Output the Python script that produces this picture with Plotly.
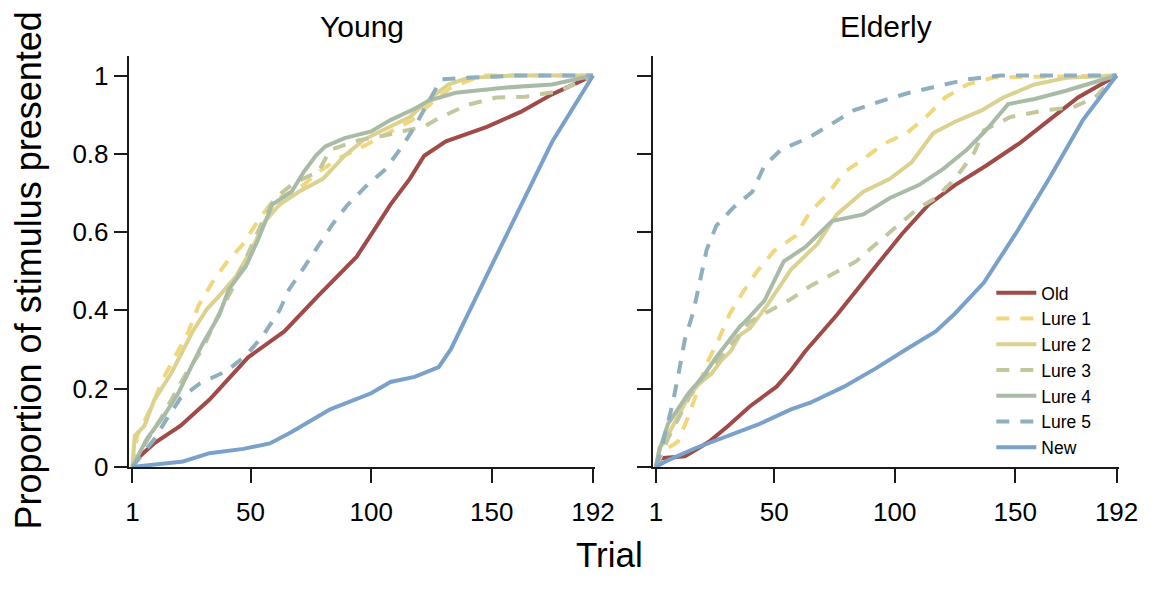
import plotly.graph_objects as go

W, H = 1176, 593

# ---------------- data: cumulative proportion of each stimulus type by trial ----------------
series_names = ["Old", "Lure 1", "Lure 2", "Lure 3", "Lure 4", "Lure 5", "New"]
tick_trials = [1, 50, 100, 150, 192]
tick_props = [0, 0.2, 0.4, 0.6, 0.8, 1]

# Young group
young_old_trial = [1, 10, 21, 33, 49, 64, 78, 89, 94, 101, 108, 116, 122, 131, 139, 148, 162, 175, 192]
young_old_prop = [0.01, 0.06, 0.105, 0.172, 0.28, 0.346, 0.437, 0.504, 0.537, 0.603, 0.67, 0.736, 0.795,
                  0.832, 0.849, 0.869, 0.907, 0.952, 1.0]
young_lure1_trial = [1, 3, 9, 13.5, 18.5, 24, 28.5, 34, 40, 47, 53, 59, 66, 72, 78, 87, 97, 106, 117, 125,
                     133, 146, 192]
young_lure1_prop = [0.0, 0.08, 0.155, 0.222, 0.28, 0.342, 0.413, 0.47, 0.522, 0.57, 0.628, 0.678, 0.70, 0.72,
                    0.753, 0.79, 0.82, 0.85, 0.886, 0.93, 0.969, 1.0, 1.0]
young_lure2_trial = [1, 2, 6, 10, 17, 21, 26, 32, 37, 44, 51, 56, 62, 70, 80, 89, 97, 105, 116, 125, 132, 140,
                     159, 192]
young_lure2_prop = [0.0, 0.08, 0.105, 0.17, 0.238, 0.288, 0.346, 0.404, 0.437, 0.487, 0.562, 0.628, 0.67, 0.703,
                    0.736, 0.795, 0.836, 0.861, 0.894, 0.944, 0.977, 0.994, 1.0, 1.0]
young_lure3_trial = [1, 6, 13, 18, 24, 30, 36, 42, 48, 55, 60, 67, 73, 78, 83, 95, 105, 116, 122, 129, 140, 152,
                     164, 178, 192]
young_lure3_prop = [0.0, 0.056, 0.126, 0.18, 0.247, 0.30, 0.38, 0.45, 0.53, 0.628, 0.687, 0.72, 0.74, 0.753,
                    0.81, 0.835, 0.846, 0.86, 0.87, 0.894, 0.925, 0.944, 0.946, 0.96, 1.0]
young_lure4_trial = [1, 7, 14, 20, 24, 30, 37, 41, 48, 53, 59, 67, 72, 77, 81, 89, 100, 108, 118, 124, 135, 155,
                     175, 192]
young_lure4_prop = [0.0, 0.072, 0.13, 0.188, 0.238, 0.313, 0.388, 0.454, 0.512, 0.579, 0.67, 0.703, 0.753, 0.795,
                    0.819, 0.84, 0.857, 0.886, 0.915, 0.936, 0.956, 0.969, 0.977, 1.0]
young_lure5_trial = [1, 5, 10, 15, 21, 29, 40, 48, 55, 62, 66, 72, 78, 84, 90, 98, 106, 113, 118, 124, 129, 140,
                     160, 192]
young_lure5_prop = [0.0, 0.03, 0.07, 0.12, 0.176, 0.213, 0.245, 0.284, 0.334, 0.40, 0.454, 0.508, 0.562, 0.62,
                    0.668, 0.718, 0.761, 0.82, 0.869, 0.936, 0.99, 0.994, 1.0, 1.0]
young_new_trial = [1, 8, 22, 33, 47, 58, 67, 83, 94, 100, 108, 118, 128, 133, 148, 162, 175, 192]
young_new_prop = [0.0, 0.005, 0.014, 0.035, 0.046, 0.06, 0.089, 0.147, 0.172, 0.188, 0.217, 0.23, 0.255, 0.30,
                  0.49, 0.665, 0.83, 1.0]

# Elderly group
elderly_old_trial = [1, 3, 13, 23, 31, 40, 51, 57, 63, 76, 90, 103, 114, 125, 138, 152, 164, 176, 192]
elderly_old_prop = [0.0, 0.022, 0.027, 0.064, 0.105, 0.155, 0.205, 0.247, 0.296, 0.388, 0.496, 0.595, 0.67,
                    0.72, 0.77, 0.828, 0.886, 0.944, 1.0]
elderly_lure1_trial = [1, 4, 10, 14, 18, 22, 27, 31.5, 37, 43, 50, 59, 65, 72, 79, 87, 95, 105, 113, 121, 130,
                       141, 192]
elderly_lure1_prop = [0.0, 0.04, 0.064, 0.122, 0.19, 0.263, 0.326, 0.39, 0.446, 0.50, 0.552, 0.591, 0.653,
                      0.695, 0.753, 0.786, 0.824, 0.853, 0.894, 0.944, 0.977, 0.995, 1.0]
elderly_lure2_trial = [1, 2.5, 4.5, 11, 14.5, 19, 24, 28, 32, 36, 40, 47, 57, 68, 76, 87, 98, 107, 116, 125, 136,
                       145, 158, 171, 192]
elderly_lure2_prop = [0.0, 0.05, 0.064, 0.139, 0.18, 0.213, 0.238, 0.271, 0.296, 0.338, 0.354, 0.412, 0.504,
                      0.57, 0.645, 0.703, 0.736, 0.778, 0.853, 0.882, 0.911, 0.944, 0.977, 0.994, 1.0]
elderly_lure3_trial = [1, 6, 15, 22, 30, 40, 47, 56, 65, 75, 84, 94, 102, 110, 117, 125, 133, 137, 148, 162, 174,
                       183, 192]
elderly_lure3_prop = [0.0, 0.072, 0.18, 0.238, 0.296, 0.371, 0.395, 0.425, 0.462, 0.496, 0.525, 0.579, 0.62,
                      0.662, 0.687, 0.736, 0.803, 0.86, 0.894, 0.911, 0.919, 0.944, 1.0]
elderly_lure4_trial = [1, 2.3, 6, 11, 14.5, 18, 21.3, 26, 28, 36, 38, 46, 54, 63, 74, 87, 98, 110, 120, 130, 138,
                       147, 158, 171, 192]
elderly_lure4_prop = [0.0, 0.039, 0.11, 0.155, 0.188, 0.213, 0.238, 0.28, 0.296, 0.36, 0.371, 0.425, 0.525,
                      0.562, 0.628, 0.645, 0.687, 0.72, 0.761, 0.811, 0.861, 0.927, 0.94, 0.961, 1.0]
elderly_lure5_trial = [1, 3, 5, 8, 10.5, 13, 16.5, 19.5, 22, 26, 33, 41, 46, 53, 64, 73, 83, 95, 106, 118, 130,
                       144, 192]
elderly_lure5_prop = [0.0, 0.04, 0.089, 0.164, 0.242, 0.326, 0.396, 0.48, 0.554, 0.616, 0.662, 0.703, 0.77,
                      0.811, 0.84, 0.873, 0.911, 0.936, 0.956, 0.973, 0.99, 1.0, 1.0]
elderly_new_trial = [1, 5, 17, 31, 44, 57, 65, 79, 92, 106, 117, 125, 137, 151, 164, 178, 192]
elderly_new_prop = [0.0, 0.014, 0.047, 0.08, 0.11, 0.147, 0.164, 0.205, 0.251, 0.305, 0.346, 0.392, 0.471,
                    0.604, 0.736, 0.886, 1.0]

# ---------------- styling ----------------
colors = {"Old": "#A04B47", "Lure 1": "#F0D77E", "Lure 2": "#DBD28F", "Lure 3": "#C3C79E",
          "Lure 4": "#A9BBA6", "Lure 5": "#8FAFBE", "New": "#79A1C9"}
dashes = {"Old": "solid", "Lure 1": "13px,11px", "Lure 2": "solid", "Lure 3": "13px,11px",
          "Lure 4": "solid", "Lure 5": "13px,11px", "New": "solid"}
FONT = "Liberation Sans, Arial, Helvetica, sans-serif"
INK = "#1a1a1a"

young = {"Old": (young_old_trial, young_old_prop), "Lure 1": (young_lure1_trial, young_lure1_prop),
         "Lure 2": (young_lure2_trial, young_lure2_prop), "Lure 3": (young_lure3_trial, young_lure3_prop),
         "Lure 4": (young_lure4_trial, young_lure4_prop), "Lure 5": (young_lure5_trial, young_lure5_prop),
         "New": (young_new_trial, young_new_prop)}
elderly = {"Old": (elderly_old_trial, elderly_old_prop), "Lure 1": (elderly_lure1_trial, elderly_lure1_prop),
           "Lure 2": (elderly_lure2_trial, elderly_lure2_prop), "Lure 3": (elderly_lure3_trial, elderly_lure3_prop),
           "Lure 4": (elderly_lure4_trial, elderly_lure4_prop), "Lure 5": (elderly_lure5_trial, elderly_lure5_prop),
           "New": (elderly_new_trial, elderly_new_prop)}

fig = go.Figure()
for panel, (xa, ya, show) in ((young, ("x", "y", False)), (elderly, ("x2", "y2", True))):
    for name in series_names:
        tx, py = panel[name]
        fig.add_trace(go.Scatter(x=tx, y=py, mode="lines", name=name, xaxis=xa, yaxis=ya, showlegend=show,
                                 line=dict(color=colors[name], width=4, dash=dashes[name])))


def px_x(p):
    return p / W


def px_y(p):
    return (H - p) / H


x_range = [-0.2, 192.9]
y_range = [0, 1.051]
y_dom = [px_y(479), px_y(57)]
axis_common = dict(showline=True, linecolor=INK, linewidth=1.5, ticks="outside", ticklen=14, tickwidth=1.5,
                   tickcolor=INK, showgrid=False, zeroline=False,
                   tickfont=dict(family=FONT, size=26, color="black"))

fig.update_layout(
    width=W, height=H, autosize=False, margin=dict(l=0, r=0, t=0, b=0),
    paper_bgcolor="white", plot_bgcolor="white",
    xaxis=dict(domain=[px_x(128), px_x(603)], range=x_range, anchor="y", tickvals=tick_trials,
               ticktext=[str(t) for t in tick_trials], ticklabelstandoff=7, **axis_common),
    xaxis2=dict(domain=[px_x(662), px_x(1137)], range=x_range, anchor="y2", tickvals=tick_trials,
                ticktext=[str(t) for t in tick_trials], ticklabelstandoff=7, **axis_common),
    yaxis=dict(domain=y_dom, range=y_range, anchor="x", tickvals=tick_props,
               ticktext=["0", "0.2", "0.4", "0.6", "0.8", "1"], **axis_common),
    yaxis2=dict(domain=y_dom, range=y_range, anchor="x2", tickvals=tick_props, showticklabels=False,
                **axis_common),
    legend=dict(x=px_x(1007), y=px_y(282), xanchor="left", yanchor="top",
                font=dict(family=FONT, size=17.5, color="black"), bgcolor="rgba(255,255,255,0)",
                tracegroupgap=0, itemwidth=40),
)

annotations = [
    dict(text="Young", x=px_x(365.5), y=px_y(27), font=dict(size=30)),
    dict(text="Elderly", x=px_x(900), y=px_y(27), font=dict(size=30)),
    dict(text="Trial", x=px_x(618), y=px_y(569), font=dict(size=35)),
    dict(text="Proportion of stimulus presented", x=px_x(26), y=px_y(277), textangle=-90, font=dict(size=36)),
]
for a in annotations:
    a["font"].update(family=FONT, color="black")
    fig.add_annotation(xref="paper", yref="paper", showarrow=False, xanchor="center", yanchor="middle", **a)

fig.write_html("out.html")
